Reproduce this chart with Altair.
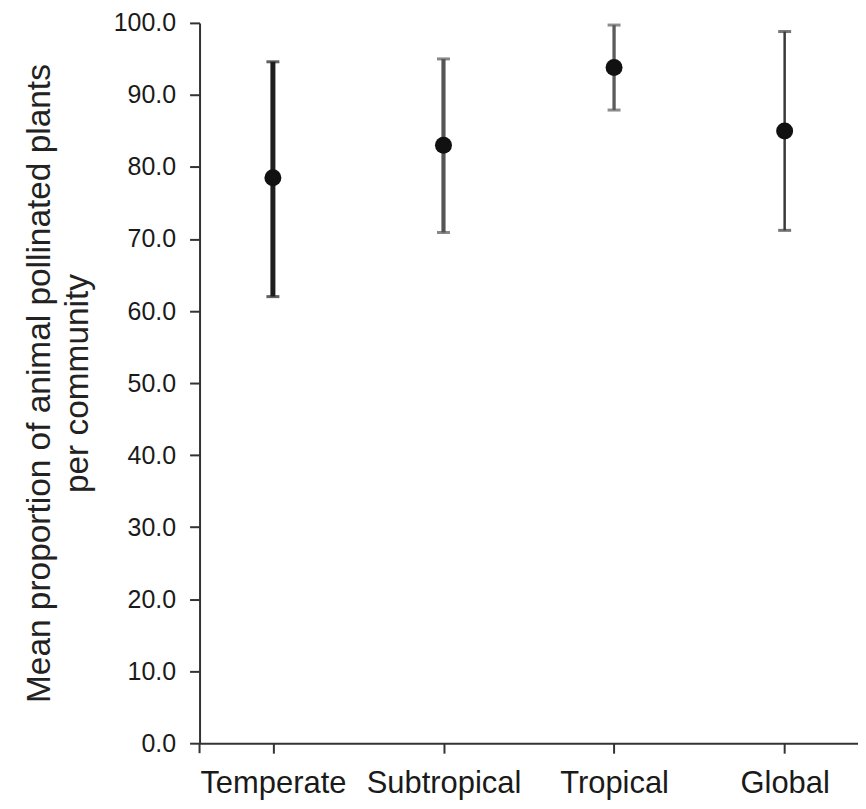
import altair as alt
import pandas as pd

# ---- data ----
categories = ["Temperate", "Subtropical", "Tropical", "Global"]
means = [78.5, 83.0, 93.8, 85.0]
lowers = [62.0, 70.9, 87.9, 71.2]
uppers = [94.6, 95.0, 99.7, 98.8]
y_ticks = [0, 10, 20, 30, 40, 50, 60, 70, 80, 90, 100]

df = pd.DataFrame({"region": categories, "mean": means, "lower": lowers, "upper": uppers})

# ---- styles (kept apart from data) ----
bar_widths = [5, 2.5, 2.5, 3.5]
bar_colors = ["#1e1e1e", "#555555", "#5c5c5c", "#3a3a3a"]
FONT = "Liberation Sans"
PLOT_H = 722

x_enc = alt.X(
    "region:N",
    sort=categories,
    scale=alt.Scale(type="point", padding=0.43),
    axis=alt.Axis(
        title=None, labelAngle=0, labelFontSize=31, labelPadding=15, tickSize=10,
    ),
)
y_scale = alt.Scale(domain=[0, 100], nice=False, zero=True)
y_axis = alt.Axis(
    values=y_ticks, format=".1f", labelFontSize=25, labelPadding=14, tickSize=10,
    title=["Mean proportion of animal pollinated plants", "per community"],
    titleFontSize=33.5, titleFontWeight="normal", titleLineHeight=38,
    titleAngle=270, titleAlign="center", titleBaseline="alphabetic",
    titleX=-150, titleY=PLOT_H / 2,
)

color_scale = alt.Scale(domain=categories, range=bar_colors)
width_scale = alt.Scale(domain=categories, range=bar_widths)

base = alt.Chart(df)

bars = base.mark_rule().encode(
    x=x_enc,
    y=alt.Y("lower:Q", scale=y_scale, axis=y_axis),
    y2="upper:Q",
    color=alt.Color("region:N", scale=color_scale, legend=None),
    strokeWidth=alt.StrokeWidth("region:N", scale=width_scale, legend=None),
)
cap_low = base.mark_tick(orient="horizontal", size=13, thickness=3).encode(
    x=x_enc,
    y=alt.Y("lower:Q", scale=y_scale),
    color=alt.Color("region:N", scale=color_scale, legend=None),
)
cap_high = base.mark_tick(orient="horizontal", size=13, thickness=3).encode(
    x=x_enc,
    y=alt.Y("upper:Q", scale=y_scale),
    color=alt.Color("region:N", scale=color_scale, legend=None),
)
points = base.mark_circle(size=290, opacity=1, color="#111111").encode(
    x=x_enc,
    y=alt.Y("mean:Q", scale=y_scale),
)
corner_tick = alt.Chart(pd.DataFrame({"k": [0]})).mark_rule(color="#333333", strokeWidth=2).encode(
    x=alt.value(0), y=alt.value(PLOT_H), y2=alt.value(PLOT_H + 10)
)

chart = (
    alt.layer(bars, cap_low, cap_high, points, corner_tick)
    .properties(
        width=660, height=PLOT_H, autosize="none",
        padding={"left": 192, "top": 14, "right": 0, "bottom": 58},
    )
    .configure_view(stroke=None)
    .configure_axis(
        labelFont=FONT, titleFont=FONT, domainColor="#333333", tickColor="#333333",
        labelColor="#1a1a1a", titleColor="#222222", domainWidth=2, tickWidth=2, grid=False,
    )
)

chart.save("out.html", embed_options={"renderer": "svg", "actions": False})
